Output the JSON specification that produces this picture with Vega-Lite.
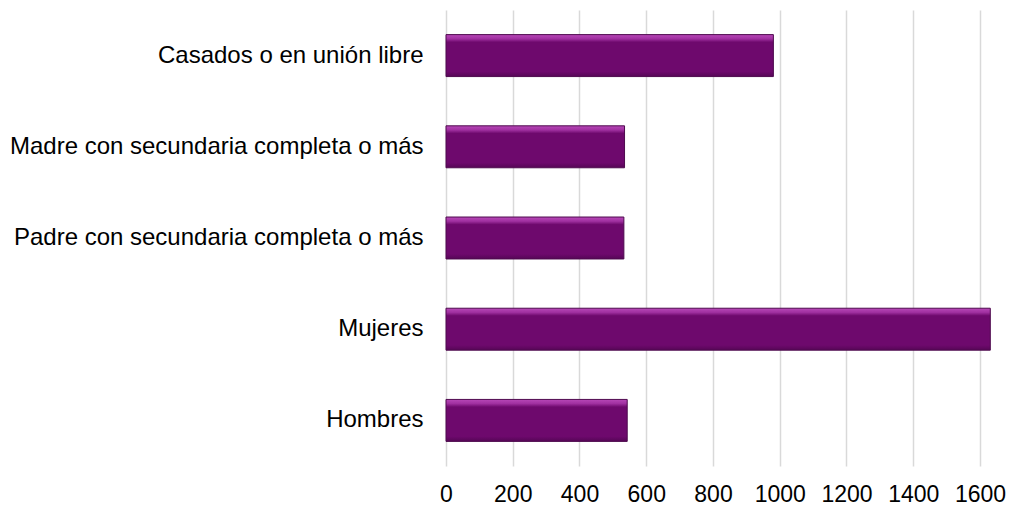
{
  "$schema": "https://vega.github.io/schema/vega-lite/v6.json",
  "autosize": "none",
  "padding": {"left": 446, "top": 10, "right": 0, "bottom": 42},
  "width": 565,
  "height": 456,
  "background": "white",
  "config": {
    "view": {"stroke": null},
    "font": "Liberation Sans"
  },
  "data": {
    "values": [
      {"categoria": "Casados o en unión libre", "valor": 981},
      {"categoria": "Madre con secundaria completa o más", "valor": 535},
      {"categoria": "Padre con secundaria completa o más", "valor": 533},
      {"categoria": "Mujeres", "valor": 1631},
      {"categoria": "Hombres", "valor": 543}
    ]
  },
  "mark": {
    "type": "bar",
    "stroke": "#4e0a4e",
    "strokeWidth": 1,
    "color": {
      "gradient": "linear",
      "x1": 0, "y1": 0, "x2": 0, "y2": 1,
      "stops": [
        {"offset": 0, "color": "#b848b8"},
        {"offset": 0.1, "color": "#a030a0"},
        {"offset": 0.18, "color": "#6e096d"},
        {"offset": 0.88, "color": "#6e096d"},
        {"offset": 1, "color": "#560656"}
      ]
    }
  },
  "encoding": {
    "y": {
      "field": "categoria",
      "type": "nominal",
      "sort": null,
      "scale": {"paddingInner": 0.54, "paddingOuter": 0.27},
      "axis": {
        "title": null,
        "domain": false,
        "ticks": false,
        "labelFontSize": 24,
        "labelColor": "#000000",
        "labelPadding": 23,
        "labelLimit": 500
      }
    },
    "x": {
      "field": "valor",
      "type": "quantitative",
      "scale": {"domain": [0, 1693], "nice": false},
      "axis": {
        "title": null,
        "values": [0, 200, 400, 600, 800, 1000, 1200, 1400, 1600],
        "format": "d",
        "domain": false,
        "ticks": false,
        "grid": true,
        "gridColor": "#d9d9d9",
        "gridWidth": 1.5,
        "labelFontSize": 23,
        "labelColor": "#000000",
        "labelPadding": 17,
        "labelFlush": false
      }
    }
  }
}
